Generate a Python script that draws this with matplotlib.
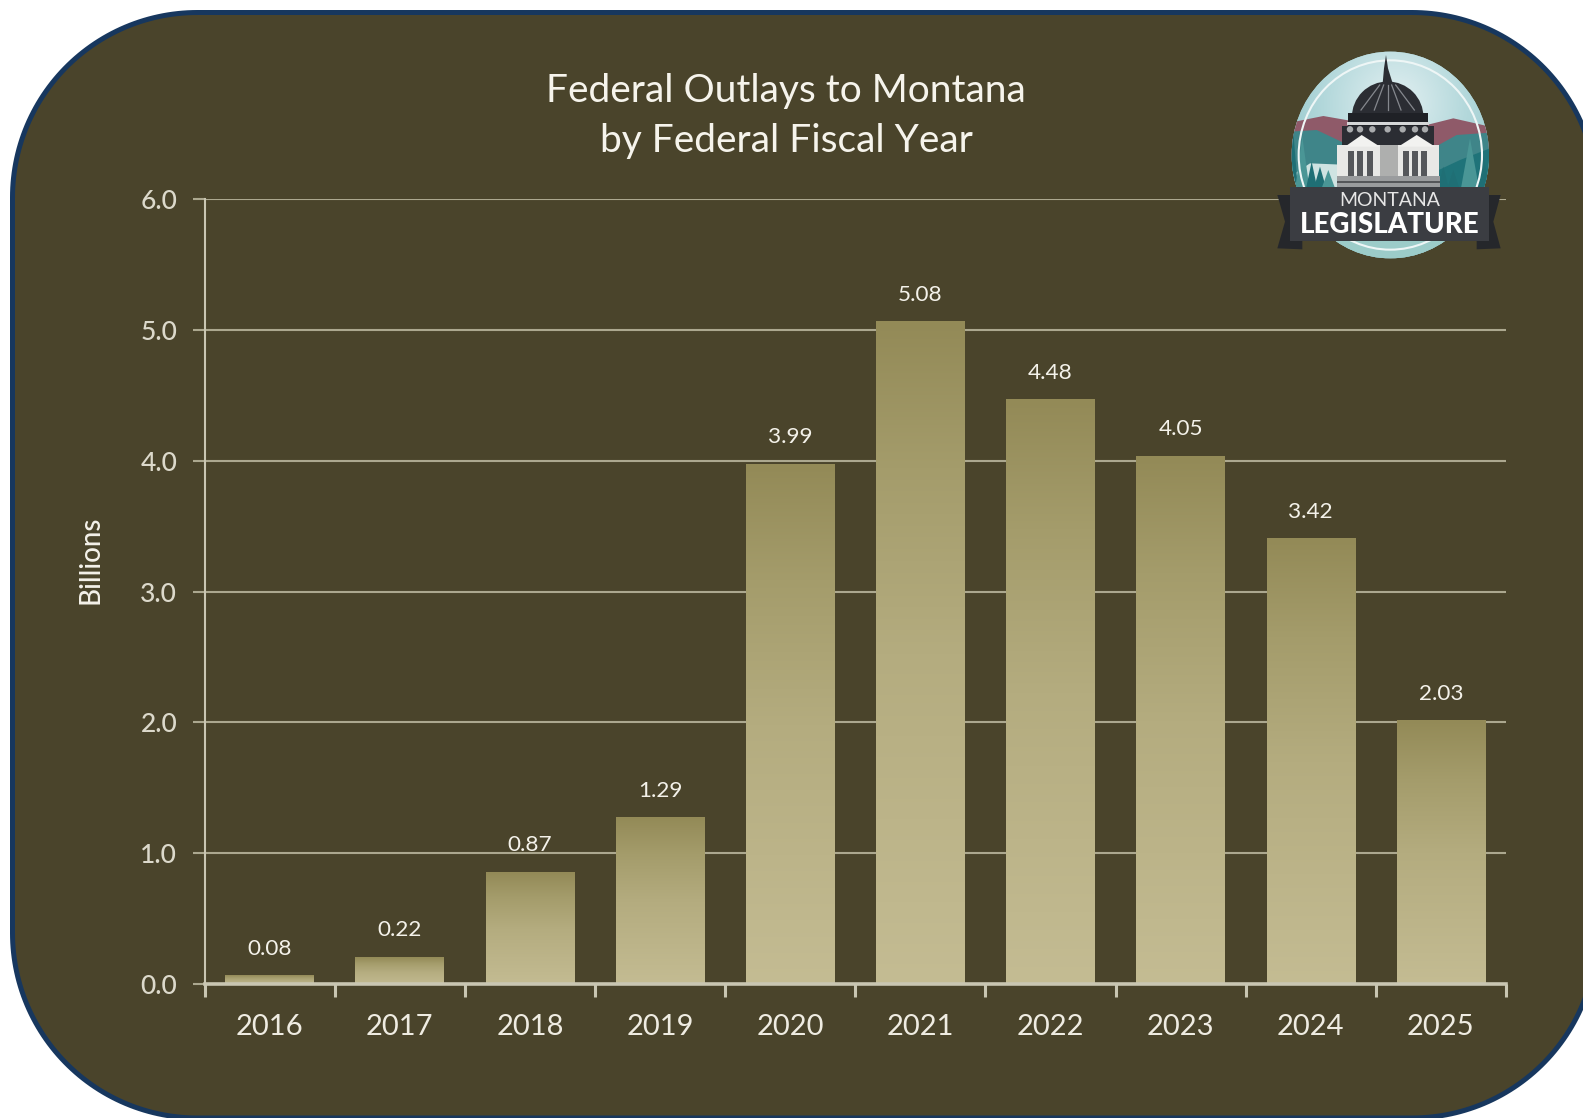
import numpy as np
import matplotlib
matplotlib.use("Agg")
import matplotlib.pyplot as plt
from matplotlib.patches import Polygon, Rectangle, Ellipse, Circle
from matplotlib.colors import LinearSegmentedColormap

years = ["2016", "2017", "2018", "2019", "2020", "2021", "2022", "2023", "2024", "2025"]
outlays = [0.08, 0.22, 0.87, 1.29, 3.99, 5.08, 4.48, 4.05, 3.42, 2.03]
value_labels = ["0.08", "0.22", "0.87", "1.29", "3.99", "5.08", "4.48", "4.05", "3.42", "2.03"]
y_ticks = [0, 1, 2, 3, 4, 5, 6]
title = "Federal Outlays to Montana\nby Federal Fiscal Year"
y_label = "Billions"

W, H = 1583, 1118
PANEL = "#4a442b"
NAVY = "#17375e"
FONT = "Lato"
plt.rcParams["font.family"] = [FONT, "DejaVu Sans"]

fig = plt.figure(figsize=(W / 100, H / 100), dpi=100, facecolor="white")

# background panel in pixel space: true circular corners
bg = fig.add_axes([0, 0, 1, 1], zorder=0)
bg.set_xlim(0, W)
bg.set_ylim(H, 0)
bg.axis("off")
L, T, R_, B, r = 12.5, 12.5, 1597, 1118, 185
pts = []
for (ccx, ccy, a0) in [(L + r, T + r, 180), (R_ - r, T + r, 270), (R_ - r, B - r, 0), (L + r, B - r, 90)]:
    for a in np.radians(np.linspace(a0, a0 + 90, 60)):
        pts.append((ccx + r * np.cos(a), ccy + r * np.sin(a)))
bg.add_patch(Polygon(pts, closed=True, fc=PANEL, ec=NAVY, lw=3.6, joinstyle="round"))

# chart
x0, x1, ytop, ybot = 204.5, 1506, 199, 984
ax = fig.add_axes([x0 / W, 1 - ybot / H, (x1 - x0) / W, (ybot - ytop) / H], zorder=1)
ax.patch.set_alpha(0)
GRID = "#aca88f"
AXC = "#c9c6b2"
TXT = "#dcd9cb"
pos = np.arange(len(years))
bars = ax.bar(pos, outlays, width=0.68, bottom=-0.016, color="#b5ad80", edgecolor="none", zorder=2)
grad = LinearSegmentedColormap.from_list(
    "g", [(0, "#938a57"), (0.22, "#a49c6b"), (0.5, "#b4ac7f"), (1, "#c4bc93")])
g = np.linspace(0, 1, 256).reshape(-1, 1)
for b in bars:
    ax.imshow(g, cmap=grad, aspect="auto", zorder=2.5, origin="upper",
              extent=[b.get_x(), b.get_x() + b.get_width(), b.get_y(), b.get_y() + b.get_height()])
ax.set_xlim(-0.5, len(years) - 0.5)
ax.set_ylim(0, 6)
ax.set_yticks(y_ticks)
ax.set_yticklabels([f"{v:.1f}" for v in y_ticks], fontsize=19, color=TXT, fontweight="medium")
ax.set_xticks(pos)
ax.set_xticklabels(years, fontsize=21, color="#efece2")
ax.set_xticks(np.arange(-0.5, len(years)), minor=True)
ax.tick_params(axis="x", which="major", length=0, pad=21.5)
ax.tick_params(axis="x", which="minor", length=9, width=2.2, color=AXC, direction="out")
ax.tick_params(axis="y", length=9, width=1.5, color=GRID, pad=10.7)
ax.grid(axis="y", color=GRID, lw=1.5, zorder=1)
ax.set_axisbelow(True)
for s in ("top", "right"):
    ax.spines[s].set_visible(False)
ax.spines["left"].set_color(AXC)
ax.spines["left"].set_linewidth(1.5)
ax.spines["bottom"].set_color(AXC)
ax.spines["bottom"].set_linewidth(2.6)
ax.spines["bottom"].set_zorder(4)
for xp, v, lab in zip(pos, outlays, value_labels):
    ax.annotate(lab, (xp, v), xytext=(0, 10.6), textcoords="offset points",
                ha="center", va="bottom", fontsize=16.2, color="#f4f2ea", zorder=5)
ax.set_ylabel(y_label, fontsize=20, color="#f4f2ea", fontweight="medium")
ax.yaxis.set_label_coords((103 - x0) / (x1 - x0), 0.54)

# overlay: title and logo
ov = fig.add_axes([0, 0, 1, 1], zorder=2)
ov.set_xlim(0, W)
ov.set_ylim(H, 0)
ov.axis("off")
ov.patch.set_alpha(0)
ov.text(786, 116, title, ha="center", va="center", fontsize=28, color="#f6f4ec",
        linespacing=1.47)


def P(x, y):
    return (1240 + x / 3, 30 + y / 3)


def poly(pts, c, z=3, **kw):
    p = Polygon([P(*q) for q in pts], closed=True, fc=c, ec="none", zorder=z, **kw)
    ov.add_patch(p)
    return p


def rect(x, y, w, h, c, z=5):
    ov.add_patch(Rectangle(P(x, y), w / 3, h / 3, fc=c, ec="none", zorder=z))


cx, cy = P(451, 375)
rx, ry = 296 / 3, 310 / 3
circ = Ellipse((cx, cy), 2 * rx, 2 * ry, fc="#a9d2d6", ec="none", zorder=2)
ov.add_patch(circ)
sky = LinearSegmentedColormap.from_list("s", ["#e3f0f2", "#b5d9dc", "#8cc3c7"])
yy, xx = np.mgrid[-1:1:200j, -1:1:200j]
im = ov.imshow(np.hypot(xx - 0.05, yy + 0.5), cmap=sky, aspect="auto", zorder=2,
               extent=[cx - rx, cx + rx, cy + ry, cy - ry], vmin=0, vmax=1.4)
im.set_clip_path(circ)
clip = []
clip.append(poly([(150, 278), (250, 258), (330, 272), (340, 380), (150, 400)], "#8f5a69"))
clip.append(poly([(560, 285), (640, 265), (750, 290), (750, 400), (560, 400)], "#8f5a69"))
clip.append(poly([(150, 305), (230, 300), (340, 352), (340, 480), (150, 480)], "#3f8589"))
clip.append(poly([(560, 365), (650, 315), (750, 308), (750, 480), (560, 480)], "#3f8589"))
clip.append(poly([(150, 440), (210, 400), (330, 405), (330, 480), (150, 480)], "#cfe3e2"))
clip.append(poly([(575, 430), (660, 390), (750, 355), (750, 480), (575, 480)], "#1f7379"))
# trees
for tx, top, wd in [(160, 305, 14), (187, 320, 22), (215, 395, 18), (240, 410, 20), (265, 420, 22),
                    (610, 410, 18), (640, 420, 20), (690, 325, 28), (728, 360, 20)]:
    clip.append(poly([(tx, top), (tx + wd, 480), (tx - wd, 480)],
                     "#4a9696" if wd > 21 else "#1f6f75", z=3.2))
for c_ in clip:
    c_.set_clip_path(circ)
ov.add_patch(Ellipse((cx, cy), 2 * 275 / 3, 2 * 284 / 3, fc="none", ec="#eef6f6", lw=1.5, zorder=4))
low = poly([(150, 625), (750, 625), (750, 690), (150, 690)], "#9cccc9", z=3)
low.set_clip_path(circ)
ov.plot(*zip(P(300, 660), P(600, 660)), color="none")

# capitol dome
ov.add_patch(Ellipse(P(443, 262), 215 / 3, 215 / 3, fc="#2b2d33", ec="none", zorder=5))
for dx in (-80, -40, 0, 40, 80):
    ov.plot(*zip(P(443 + dx * 0.3, 165), P(443 + dx, 240)), color="#85888e", lw=0.9, zorder=5.2)
poly([(428, 160), (432, 115), (438, 75), (444, 115), (458, 160)], "#2b2d33", z=5)
rect(325, 248, 238, 40, "#1f2126", z=5.1)
rect(320, 277, 248, 8, "#d5d7d8", z=5.3)
rect(305, 288, 278, 60, "#2b2d33", z=5.2)
for kx in (330, 360, 397, 443, 488, 525, 555):
    ov.add_patch(Circle(P(kx, 298), 3.2, fc="#a9abad", ec="none", zorder=5.4))
rect(292, 345, 305, 95, "#e8e8e6", z=5.3)
rect(420, 345, 55, 95, "#aeafae", z=5.4)
poly([(315, 350), (365, 315), (420, 350)], "#f2f2f0", z=5.5)
poly([(475, 350), (530, 315), (585, 350)], "#f2f2f0", z=5.5)
for bx in (325, 352, 380, 490, 515, 543):
    rect(bx, 362, 18, 78, "#55575b", z=5.6)
rect(290, 438, 310, 34, "#9a9c9e", z=5.7)
rect(290, 452, 310, 8, "#55575a", z=5.8)

# ribbon
poly([(112, 495), (155, 495), (155, 632), (187, 632), (187, 658), (112, 655), (135, 575)], "#25272b", z=6)
poly([(782, 495), (745, 495), (745, 632), (710, 632), (710, 658), (782, 655), (760, 575)], "#25272b", z=6)
rect(150, 472, 598, 160, "#3b3d42", z=6.5)
tx, ty = P(450, 510)
ov.text(tx, ty, "MONTANA", ha="center", va="center", fontsize=14, color="#e6e6e6", zorder=7)
tx, ty = P(450, 586)
ov.text(tx, ty, "LEGISLATURE", ha="center", va="center", fontsize=20, color="white", zorder=7,
        fontweight="black")
ov.set_xlim(0, W)
ov.set_ylim(H, 0)

fig.savefig("out.png", dpi=100, facecolor="white")
